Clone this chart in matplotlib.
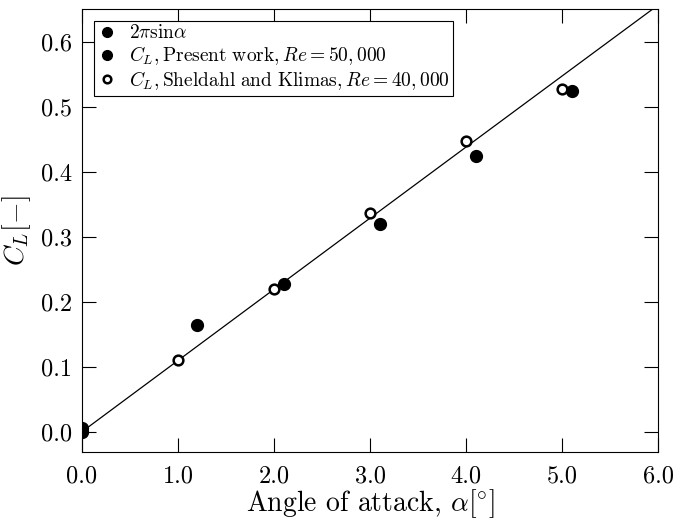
import numpy as np
import matplotlib
matplotlib.use("Agg")
import matplotlib.pyplot as plt
from matplotlib.lines import Line2D

plt.rcParams["font.family"] = "serif"
plt.rcParams["font.serif"] = ["cmr10"]
plt.rcParams["mathtext.fontset"] = "cm"
plt.rcParams["axes.formatter.use_mathtext"] = True

# Data
alpha_present = [0.0, 0.0, 1.2, 2.1, 3.1, 4.1, 5.1]
cl_present = [0.0, 0.005, 0.165, 0.227, 0.32, 0.425, 0.525]
alpha_sheldahl = [0.0, 1.0, 2.0, 3.0, 4.0, 5.0]
cl_sheldahl = [0.0, 0.11, 0.22, 0.337, 0.447, 0.527]
x_ticks = [0.0, 1.0, 2.0, 3.0, 4.0, 5.0, 6.0]
y_ticks = [0.0, 0.1, 0.2, 0.3, 0.4, 0.5, 0.6]

alpha_line = np.linspace(0, 6.2, 100)
cl_theory = 2 * np.pi * np.sin(np.radians(alpha_line))

fig = plt.figure(figsize=(6.73, 5.23), dpi=100)
ax = fig.add_axes([0.1218, 0.136, 0.856, 0.847])

ax.plot(alpha_line, cl_theory, color="black", lw=0.9)
ax.plot(alpha_sheldahl, cl_sheldahl, "o", ms=7, mfc="white", mec="black", mew=1.8)
ax.plot(alpha_present, cl_present, "o", ms=8.5, color="black")

ax.set_xlim(0, 6)
ax.set_ylim(-0.031, 0.651)
ax.set_xticks(x_ticks)
ax.set_yticks(y_ticks)
ax.set_xticklabels([f"{v:.1f}" for v in x_ticks])
ax.set_yticklabels([f"{v:.1f}" for v in y_ticks])
ax.tick_params(direction="in", top=True, right=True, length=10, width=0.8,
               labelsize=17.5)
ax.tick_params(axis="x", pad=9.5)
ax.tick_params(axis="y", pad=7)
for s in ax.spines.values():
    s.set_linewidth(0.8)

ax.set_xlabel(r"Angle of attack, $\alpha[^{\circ}]$", fontsize=20, labelpad=0)
ax.set_ylabel(r"$C_L[-]$", fontsize=20, labelpad=6)

handles = [
    Line2D([], [], ls="none", marker="o", ms=7, color="black"),
    Line2D([], [], ls="none", marker="o", ms=7, color="black"),
    Line2D([], [], ls="none", marker="o", ms=5.5, mfc="white", mec="black", mew=1.8),
]
labels = [
    r"$2\pi\mathrm{sin}\alpha$",
    r"$C_L,\mathrm{Present\ work},Re=50,000$",
    r"$C_L,\mathrm{Sheldahl\ and\ Klimas},Re=40,000$",
]
leg = ax.legend(handles, labels, loc="upper left", fontsize=14, frameon=True,
                fancybox=False, edgecolor="black", framealpha=1,
                handlelength=1.0, handletextpad=0.6, borderpad=0.2,
                labelspacing=0.1, borderaxespad=0.6)
leg.get_frame().set_linewidth(0.8)

fig.savefig("out.png", dpi=100)
